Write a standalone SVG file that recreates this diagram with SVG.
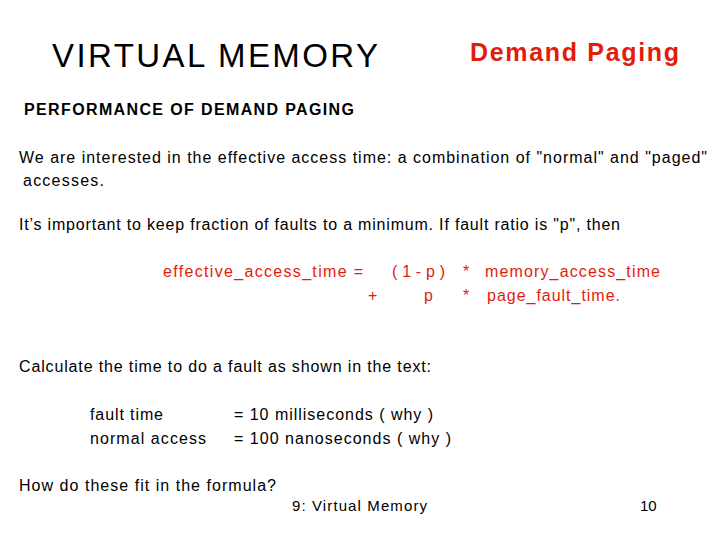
<svg xmlns="http://www.w3.org/2000/svg" width="720" height="540" viewBox="0 0 720 540">
<style>
text{font-family:"Liberation Sans",Arial,sans-serif;fill:#000}
.b{font-size:16px}
.r{fill:#e31c0c}
</style>
<rect width="720" height="540" fill="#fff"/>
<text x="52" y="67" font-size="33" textLength="326" lengthAdjust="spacing">VIRTUAL MEMORY</text>
<text x="470" y="61" font-size="25" font-weight="bold" class="r" textLength="209" lengthAdjust="spacing">Demand Paging</text>
<text x="24" y="115" font-size="16" font-weight="bold" textLength="330" lengthAdjust="spacing">PERFORMANCE OF DEMAND PAGING</text>
<text x="19" y="163" class="b" textLength="688" lengthAdjust="spacing">We are interested in the effective access time: a combination of "normal" and "paged"</text>
<text x="23" y="186" class="b" textLength="81" lengthAdjust="spacing">accesses.</text>
<text x="19" y="230" class="b" textLength="601" lengthAdjust="spacing">It’s important to keep fraction of faults to a minimum. If fault ratio is "p", then</text>
<g class="b">
<text x="163" y="277" class="b r" textLength="200" lengthAdjust="spacing">effective_access_time  =</text>
<text x="392" y="277" class="b r" textLength="53" lengthAdjust="spacing">( 1 - p )</text>
<text x="463" y="277" class="b r">*</text>
<text x="485" y="277" class="b r" textLength="175" lengthAdjust="spacing">memory_access_time</text>
<text x="368" y="301" class="b r">+</text>
<text x="424" y="301" class="b r">p</text>
<text x="463" y="301" class="b r">*</text>
<text x="487" y="301" class="b r" textLength="133" lengthAdjust="spacing">page_fault_time.</text>
</g>
<text x="19" y="372" class="b" textLength="412" lengthAdjust="spacing">Calculate the time to do a fault as shown in the text:</text>
<text x="90" y="420" class="b" textLength="73" lengthAdjust="spacing">fault time</text>
<text x="90" y="444" class="b" textLength="116" lengthAdjust="spacing">normal access</text>
<text x="234" y="420" class="b" textLength="199" lengthAdjust="spacing">= 10 milliseconds ( why )</text>
<text x="234" y="444" class="b" textLength="217" lengthAdjust="spacing">= 100 nanoseconds ( why )</text>
<text x="19" y="491" class="b" textLength="257" lengthAdjust="spacing">How  do these fit in the formula?</text>
<text x="292" y="511" font-size="15" textLength="135" lengthAdjust="spacing">9: Virtual Memory</text>
<text x="640" y="511" font-size="15">10</text>
</svg>
